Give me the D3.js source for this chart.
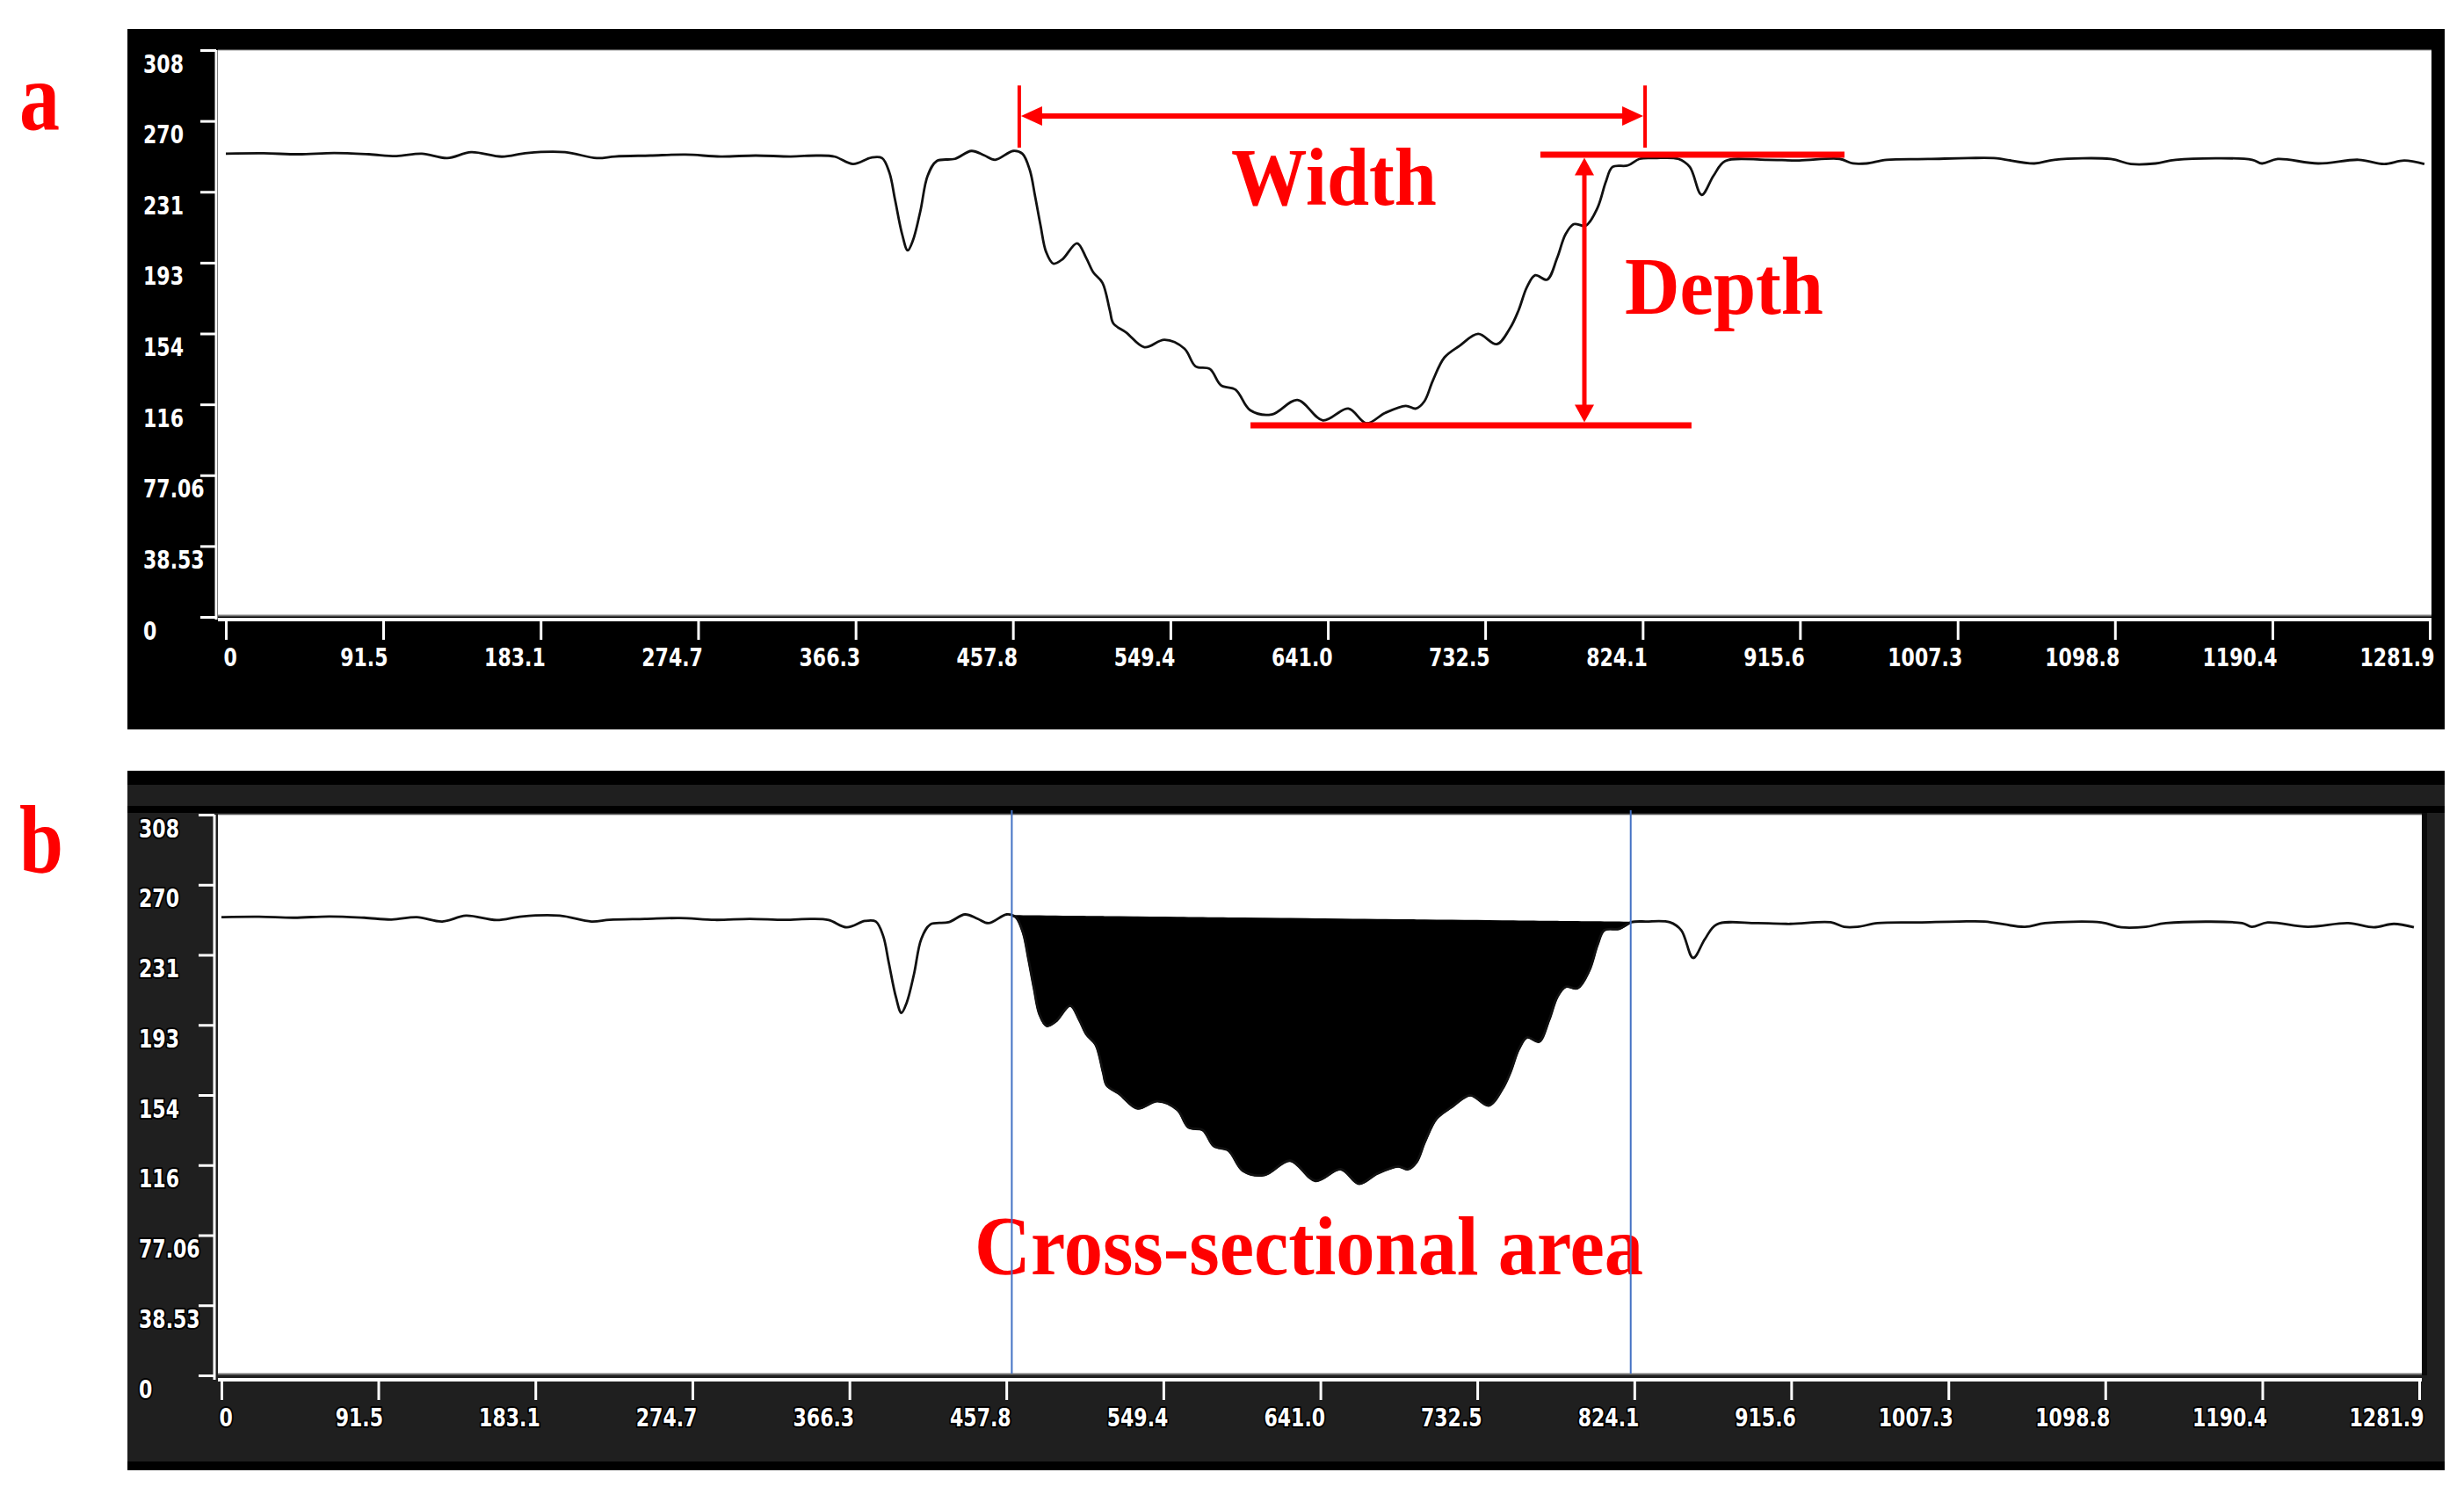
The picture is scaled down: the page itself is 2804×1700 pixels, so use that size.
<!DOCTYPE html>
<html>
<head>
<meta charset="utf-8">
<script src="https://cdn.jsdelivr.net/npm/d3@7"></script>
<style>
  html, body { margin: 0; padding: 0; background: #ffffff; }
  svg { display: block; }
</style>
</head>
<body>
<svg id="chart" width="2804" height="1700"></svg>
<script>
// ---------------- DATA ----------------
const xTickValues = [0, 91.5, 183.1, 274.7, 366.3, 457.8, 549.4, 641.0, 732.5, 824.1, 915.6, 1007.3, 1098.8, 1190.4, 1281.9];
const xTickLabels = ["0", "91.5", "183.1", "274.7", "366.3", "457.8", "549.4", "641.0", "732.5", "824.1", "915.6", "1007.3", "1098.8", "1190.4", "1281.9"];
const yTickValues = [0, 38.53, 77.06, 115.59, 154.12, 192.65, 231.18, 269.71, 308.24];
const yTickLabels = ["0", "38.53", "77.06", "116", "154", "193", "231", "270", "308"];
const xDomain = [0, 1281.9];
const yDomain = [0, 308.24];

// profile (distance, elevation)
const profileX = [0, 22.0, 42.4, 62.9, 83.3, 99.2, 114.0, 128.8, 142.6, 160.5, 175.3, 197.3, 215.7, 226.4, 246.9, 267.3, 287.8, 308.2, 328.6, 344.0,
  354.2, 364.8, 375.4, 381.7, 386.0, 389.2, 393.4, 396.6, 399.7, 404.0, 408.2, 413.5, 424.1, 433.7, 441.1, 447.4, 458.0, 463.3, 467.6, 470.7,
  473.9, 477.1, 481.3, 486.6, 495.1, 500.4, 504.6, 509.9, 514.2, 516.3, 523.7, 534.3, 546.0, 557.6, 564.0, 572.4, 578.8, 587.3, 595.8, 608.4,
  623.3, 638.1, 652.9, 663.5, 674.2, 686.3, 692.2, 697.1, 702.0, 708.8, 717.7, 728.4, 739.2, 747.0, 751.9, 756.8, 761.6, 768.5, 774.4, 779.2,
  784.1, 791.0, 797.8, 802.7, 806.6, 815.4, 822.3, 831.1, 844.8, 851.5, 858.4, 865.3, 872.1, 895.6, 915.1, 938.6, 946.4, 954.3, 966.0, 990.0,
  1013.5, 1028.4, 1051.9, 1063.6, 1096.4, 1108.1, 1122.4, 1134.2, 1178.6, 1184.3, 1193.5, 1217.0, 1240.5, 1255.4, 1267.1, 1278.8];
const profileY = [251.9, 252.1, 251.6, 252.3, 251.6, 250.6, 251.9, 249.5, 252.7, 250.3, 252.3, 252.7, 249.5, 250.4, 250.9, 251.4, 250.4, 250.9, 250.4, 250.9,
  250.3, 246.3, 249.8, 249.5, 241.5, 227.1, 208.0, 199.3, 204.9, 220.8, 239.9, 247.9, 249.1, 253.4, 251.0, 248.6, 253.4, 251.9, 243.1, 228.8,
  212.8, 198.5, 192.1, 194.5, 203.2, 195.3, 187.3, 181.7, 166.6, 159.5, 154.7, 146.7, 150.7, 145.9, 136.3, 134.8, 126.0, 123.6, 112.4, 110.1,
  118.0, 106.9, 113.3, 105.3, 110.9, 114.8, 113.3, 117.2, 128.4, 141.1, 147.5, 153.9, 148.3, 157.1, 166.7, 179.4, 185.8, 183.4, 195.3, 208.0,
  213.6, 212.8, 222.4, 236.7, 244.7, 245.5, 249.1, 249.5, 249.1, 244.7, 229.5, 239.9, 247.9, 248.6, 248.2, 249.1, 246.6, 246.6, 248.6, 249.0,
  249.5, 249.5, 246.6, 248.6, 249.0, 246.3, 246.6, 248.6, 248.6, 246.6, 249.0, 246.6, 248.6, 246.3, 248.2, 246.3];

// annotation values (data units)
const widthMarkX = [461.5, 825.5];
const widthMarkY = [255.2, 289.0];
const widthArrowY = 272.4;
const depthTopY = 251.4;
const depthTopX = [764.6, 941.5];
const depthBottomY = 104.2;
const depthBottomX = [596.0, 852.5];
const depthArrowX = 790.2;
const areaBounds = [461.0, 822.0];

// ---------------- LAYOUT ----------------
const svg = d3.select("#chart");
const profile = profileX.map((x, i) => [x, profileY[i]]);

const panels = [
  { id: "a", frame: [145, 33, 2782, 830], frameFill: "#000000", bands: [],
    plot: [248, 57, 2767, 700], xRange: [257, 2765], yRange: [702, 57],
    xAxisY: 705, xTick: 23, xLabelBase: 758, yAxisX: 246, yTick: 18, yLabelX: 163, halo: false,
    letterY: 147 },
  { id: "b", frame: [145, 877, 2782, 1673], frameFill: "#1f1f1f",
    bands: [[145, 877, 2782, 893, "#000"], [145, 917, 2782, 925, "#000"], [145, 1663, 2782, 1673, "#000"], [2756, 925, 2762, 1565, "#0a0a0a"]],
    plot: [248, 927, 2756, 1563], xRange: [252, 2753], yRange: [1565, 927],
    xAxisY: 1570, xTick: 23, xLabelBase: 1623, yAxisX: 244, yTick: 18, yLabelX: 158, halo: true,
    letterY: 993 }
];

const tickFont = "'DejaVu Sans Condensed', 'DejaVu Sans', sans-serif";
const serif = "'Liberation Serif', 'Times New Roman', serif";
const RED = "#ff0000";
const TICK_FS = 28;
const TICK_SQUEEZE_REF = 85; // rendered width of the "1281.9" label

function arrowHead(g, tipX, tipY, dx, dy, len, halfW) {
  const bx = tipX - dx * len, by = tipY - dy * len;
  const px = -dy, py = dx;
  const pts = [[tipX, tipY], [bx + px * halfW, by + py * halfW], [bx - px * halfW, by - py * halfW]];
  g.append("polygon").attr("points", pts.map(p => p.join(",")).join(" ")).attr("fill", RED);
}

let squeeze = null;
function condense(sel) {
  sel.each(function () {
    const w = this.getComputedTextLength();
    if (squeeze === null) {
      // measure reference label
      const probe = svg.append("text").attr("font-family", tickFont).attr("font-size", TICK_FS)
        .attr("font-weight", "bold").text("1281.9");
      squeeze = Math.min(1, TICK_SQUEEZE_REF / probe.node().getComputedTextLength());
      probe.remove();
    }
    if (w > 0) d3.select(this).attr("textLength", w * squeeze).attr("lengthAdjust", "spacingAndGlyphs");
  });
}

panels.forEach(cfg => {
  const g = svg.append("g").attr("class", "panel-" + cfg.id);
  const [fx0, fy0, fx1, fy1] = cfg.frame;
  g.append("rect").attr("x", fx0).attr("y", fy0).attr("width", fx1 - fx0).attr("height", fy1 - fy0).attr("fill", cfg.frameFill);
  cfg.bands.forEach(b => g.append("rect").attr("x", b[0]).attr("y", b[1]).attr("width", b[2] - b[0]).attr("height", b[3] - b[1]).attr("fill", b[4]));
  const [pl, pt, pr, pb] = cfg.plot;
  g.append("rect").attr("x", pl).attr("y", pt).attr("width", pr - pl).attr("height", pb - pt).attr("fill", "#ffffff");
  g.append("line").attr("x1", pl).attr("x2", pr).attr("y1", pb + 0.5).attr("y2", pb + 0.5).attr("stroke", "#777").attr("stroke-width", 2);
  g.append("line").attr("x1", pl).attr("x2", pr).attr("y1", pt).attr("y2", pt).attr("stroke", "#999").attr("stroke-width", 1);

  const x = d3.scaleLinear().domain(xDomain).range(cfg.xRange);
  const y = d3.scaleLinear().domain(yDomain).range(cfg.yRange);

  // axis lines
  g.append("line").attr("x1", pl).attr("x2", pr).attr("y1", cfg.xAxisY).attr("y2", cfg.xAxisY).attr("stroke", "#fff").attr("stroke-width", 4);
  g.append("line").attr("x1", cfg.yAxisX).attr("x2", cfg.yAxisX).attr("y1", pt).attr("y2", cfg.xAxisY).attr("stroke", "#fff").attr("stroke-width", 3);

  // x axis
  const xAxis = d3.axisBottom(x).tickValues(xTickValues).tickFormat((d, i) => xTickLabels[i]).tickSize(cfg.xTick).tickSizeOuter(0);
  const gx = g.append("g").attr("transform", `translate(0,${cfg.xAxisY})`).call(xAxis);
  gx.select(".domain").remove();
  gx.attr("font-family", tickFont).attr("font-size", TICK_FS);
  gx.selectAll(".tick line").attr("stroke", "#fff").attr("stroke-width", 3);
  gx.selectAll(".tick text")
    .attr("fill", "#fff").attr("font-weight", "bold")
    .attr("y", cfg.xLabelBase - cfg.xAxisY).attr("dy", "0")
    .attr("text-anchor", (d, i) => i === 0 ? "start" : "end")
    .attr("dx", (d, i) => i === 0 ? -3 : 5);

  // y axis
  const yAxis = d3.axisLeft(y).tickValues(yTickValues).tickFormat((d, i) => yTickLabels[i]).tickSize(cfg.yTick).tickSizeOuter(0);
  const gy = g.append("g").attr("transform", `translate(${cfg.yAxisX},0)`).call(yAxis);
  gy.select(".domain").remove();
  gy.attr("font-family", tickFont).attr("font-size", TICK_FS);
  gy.selectAll(".tick line").attr("stroke", "#fff").attr("stroke-width", 3);
  gy.selectAll(".tick text")
    .attr("fill", "#fff").attr("font-weight", "bold")
    .attr("x", cfg.yLabelX - cfg.yAxisX).attr("dy", "0").attr("y", 25)
    .attr("text-anchor", "start");

  condense(g.selectAll(".tick text"));

  if (cfg.halo) {
    g.selectAll(".tick text").attr("stroke", "#000").attr("stroke-width", 4).attr("paint-order", "stroke").attr("stroke-linejoin", "round");
  }

  // clip
  const clipId = "clip-" + cfg.id;
  svg.append("defs").append("clipPath").attr("id", clipId)
    .append("rect").attr("x", pl).attr("y", pt).attr("width", pr - pl).attr("height", pb - pt);
  const plotG = g.append("g").attr("clip-path", `url(#${clipId})`);

  const curve = d3.curveCatmullRom.alpha(0.5);

  if (cfg.id === "b") {
    const interp = xv => {
      for (let i = 0; i < profile.length - 1; i++) {
        if (profile[i][0] <= xv && profile[i + 1][0] >= xv) {
          const t = (xv - profile[i][0]) / (profile[i + 1][0] - profile[i][0]);
          return profile[i][1] + t * (profile[i + 1][1] - profile[i][1]);
        }
      }
      return profile[profile.length - 1][1];
    };
    const [xs, xe] = areaBounds;
    const ys = interp(xs), ye = interp(xe);
    const chord = xv => ys + (ye - ys) * (xv - xs) / (xe - xs);
    const pts = [[xs, ys]].concat(profile.filter(p => p[0] > xs && p[0] < xe)).concat([[xe, ye]]);
    const area = d3.area().x(d => x(d[0])).y0(d => y(chord(d[0]))).y1(d => y(d[1])).curve(curve);
    plotG.append("path").datum(pts).attr("d", area).attr("fill", "#000").attr("stroke", "#000").attr("stroke-width", 2);
  }

  const line = d3.line().x(d => x(d[0])).y(d => y(d[1])).curve(curve);
  plotG.append("path").datum(profile).attr("d", line).attr("fill", "none").attr("stroke", "#111").attr("stroke-width", 2.8);

  // panel letter
  svg.append("text").attr("x", 22).attr("y", cfg.letterY).text(cfg.id)
    .attr("font-family", serif).attr("font-weight", "bold").attr("font-size", 110).attr("fill", RED)
    .attr("textLength", cfg.id === "a" ? 46 : 50).attr("lengthAdjust", "spacingAndGlyphs");

  if (cfg.id === "a") {
    const ag = g.append("g");
    widthMarkX.forEach(wx => {
      ag.append("line").attr("x1", x(wx)).attr("x2", x(wx)).attr("y1", y(widthMarkY[1])).attr("y2", y(widthMarkY[0]))
        .attr("stroke", RED).attr("stroke-width", 4);
    });
    const lx = x(widthMarkX[0]) + 2, rx = x(widthMarkX[1]) - 2, ay = y(widthArrowY);
    ag.append("line").attr("x1", lx + 10).attr("x2", rx - 10).attr("y1", ay).attr("y2", ay).attr("stroke", RED).attr("stroke-width", 6);
    arrowHead(ag, lx, ay, -1, 0, 24, 11);
    arrowHead(ag, rx, ay, 1, 0, 24, 11);
    ag.append("line").attr("x1", x(depthTopX[0])).attr("x2", x(depthTopX[1])).attr("y1", y(depthTopY)).attr("y2", y(depthTopY))
      .attr("stroke", RED).attr("stroke-width", 7);
    ag.append("line").attr("x1", x(depthBottomX[0])).attr("x2", x(depthBottomX[1])).attr("y1", y(depthBottomY)).attr("y2", y(depthBottomY))
      .attr("stroke", RED).attr("stroke-width", 7);
    const dx = x(depthArrowX), ty = y(depthTopY) + 3.5, by = y(depthBottomY) - 3.5;
    ag.append("line").attr("x1", dx).attr("x2", dx).attr("y1", ty + 10).attr("y2", by - 10).attr("stroke", RED).attr("stroke-width", 5);
    arrowHead(ag, dx, ty, 0, -1, 20, 11);
    arrowHead(ag, dx, by, 0, 1, 20, 11);
    ag.append("text").attr("x", x(644.5)).attr("y", y(224.1)).attr("text-anchor", "middle").text("Width")
      .attr("font-family", serif).attr("font-weight", "bold").attr("font-size", 94).attr("fill", RED)
      .attr("textLength", 234).attr("lengthAdjust", "spacingAndGlyphs");
    ag.append("text").attr("x", x(813.7)).attr("y", y(164.9)).text("Depth")
      .attr("font-family", serif).attr("font-weight", "bold").attr("font-size", 93).attr("fill", RED)
      .attr("textLength", 226).attr("lengthAdjust", "spacingAndGlyphs");
  } else {
    const bg = g.append("g");
    bg.append("text").attr("x", x(439.3)).attr("y", y(55.6)).text("Cross-sectional area")
      .attr("font-family", serif).attr("font-weight", "bold").attr("font-size", 96).attr("fill", RED)
      .attr("textLength", 761).attr("lengthAdjust", "spacingAndGlyphs");
    areaBounds.forEach(bx => {
      bg.append("line").attr("x1", x(bx)).attr("x2", x(bx)).attr("y1", pt - 5).attr("y2", pb)
        .attr("stroke", "#4472c4").attr("stroke-width", 2);
    });
  }
});
</script>
</body>
</html>
